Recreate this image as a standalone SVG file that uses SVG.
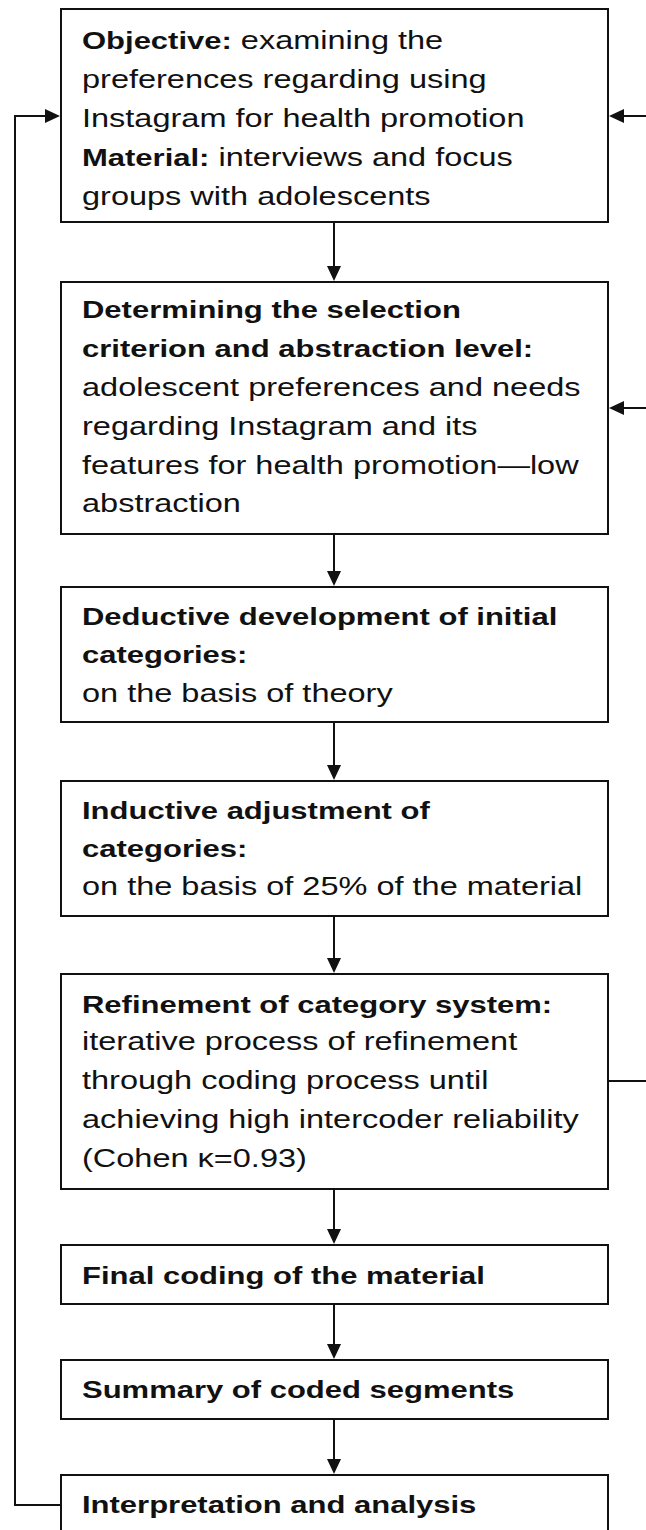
<svg xmlns="http://www.w3.org/2000/svg" width="646" height="1530" viewBox="0 0 646 1530">
  <style>
    .box { fill: #ffffff; stroke: #111111; stroke-width: 2; }
    .wire { fill: none; stroke: #111111; stroke-width: 2; }
    text { font-family: "Liberation Sans", Arial, Helvetica, sans-serif; font-size: 26px; fill: #111111; }
    .b { font-weight: bold; font-size: 24.8px; }
  </style>
  <defs>
    <marker id="head" markerUnits="userSpaceOnUse" markerWidth="16" markerHeight="16" refX="11" refY="7" orient="auto">
      <path d="M0,0 L15,7 L0,14 z" fill="#111111"/>
    </marker>
  </defs>
  <rect width="646" height="1530" fill="#ffffff"/>

  <!-- connectors -->
  <g id="connectors">
    <line class="wire" x1="334" y1="222" x2="334" y2="277" marker-end="url(#head)"/>
    <line class="wire" x1="334" y1="534" x2="334" y2="582" marker-end="url(#head)"/>
    <line class="wire" x1="334" y1="722" x2="334" y2="776" marker-end="url(#head)"/>
    <line class="wire" x1="334" y1="916" x2="334" y2="969" marker-end="url(#head)"/>
    <line class="wire" x1="334" y1="1189" x2="334" y2="1240" marker-end="url(#head)"/>
    <line class="wire" x1="334" y1="1304" x2="334" y2="1355" marker-end="url(#head)"/>
    <line class="wire" x1="334" y1="1419" x2="334" y2="1470" marker-end="url(#head)"/>
    <!-- feedback inputs from the right -->
    <line class="wire" x1="646" y1="116" x2="613" y2="116" marker-end="url(#head)"/>
    <line class="wire" x1="646" y1="408" x2="613" y2="408" marker-end="url(#head)"/>
    <line class="wire" x1="608" y1="1081" x2="646" y2="1081"/>
    <!-- loop back from interpretation to objective -->
    <polyline class="wire" points="61,1505 15,1505 15,116 56,116" marker-end="url(#head)"/>
  </g>

  <g id="objective">
    <rect class="box" x="61" y="9" width="547" height="213"/>
    <g transform="matrix(1.25 0 0 1 -20.5 0)">
      <text x="82" y="49.5"><tspan class="b">Objective:</tspan> examining the</text>
      <text x="82" y="88.3">preferences regarding using</text>
      <text x="82" y="127">Instagram for health promotion</text>
      <text x="82" y="165.8"><tspan class="b">Material:</tspan> interviews and focus</text>
      <text x="82" y="204.6">groups with adolescents</text>
    </g>
  </g>

  <g id="criterion">
    <rect class="box" x="61" y="282" width="547" height="252"/>
    <g transform="matrix(1.25 0 0 1 -20.5 0)">
      <text x="82" y="318.5" class="b">Determining the selection</text>
      <text x="82" y="357.3" class="b">criterion and abstraction level:</text>
      <text x="82" y="396.1">adolescent preferences and needs</text>
      <text x="82" y="434.9">regarding Instagram and its</text>
      <text x="82" y="473.7">features for health promotion—low</text>
      <text x="82" y="512.5">abstraction</text>
    </g>
  </g>

  <g id="deductive">
    <rect class="box" x="61" y="587" width="547" height="135"/>
    <g transform="matrix(1.25 0 0 1 -20.5 0)">
      <text x="82" y="625" class="b">Deductive development of initial</text>
      <text x="82" y="663.5" class="b">categories:</text>
      <text x="82" y="702.5">on the basis of theory</text>
    </g>
  </g>

  <g id="inductive">
    <rect class="box" x="61" y="781" width="547" height="135"/>
    <g transform="matrix(1.25 0 0 1 -20.5 0)">
      <text x="82" y="819.5" class="b">Inductive adjustment of</text>
      <text x="82" y="857" class="b">categories:</text>
      <text x="82" y="895.5">on the basis of 25% of the material</text>
    </g>
  </g>

  <g id="refinement">
    <rect class="box" x="61" y="974" width="547" height="215"/>
    <g transform="matrix(1.25 0 0 1 -20.5 0)">
      <text x="82" y="1013" class="b">Refinement of category system:</text>
      <text x="82" y="1050.5">iterative process of refinement</text>
      <text x="82" y="1089.5">through coding process until</text>
      <text x="82" y="1128.3">achieving high intercoder reliability</text>
      <text x="82" y="1167">(Cohen κ=0.93)</text>
    </g>
  </g>

  <g id="final-coding">
    <rect class="box" x="61" y="1245" width="547" height="59"/>
    <g transform="matrix(1.25 0 0 1 -20.5 0)">
      <text x="82" y="1284" class="b">Final coding of the material</text>
    </g>
  </g>

  <g id="summary">
    <rect class="box" x="61" y="1360" width="547" height="59"/>
    <g transform="matrix(1.25 0 0 1 -20.5 0)">
      <text x="82" y="1398.5" class="b">Summary of coded segments</text>
    </g>
  </g>

  <g id="interpretation">
    <rect class="box" x="61" y="1475" width="547" height="70"/>
    <g transform="matrix(1.25 0 0 1 -20.5 0)">
      <text x="82" y="1513" class="b">Interpretation and analysis</text>
    </g>
  </g>
</svg>
